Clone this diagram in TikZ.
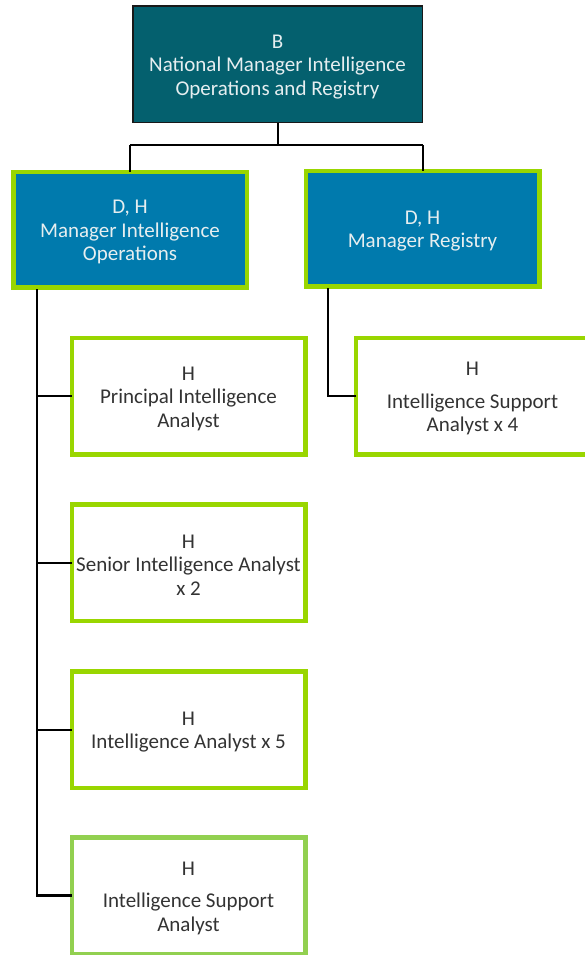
\documentclass[tikz,border=0pt]{standalone}
\usepackage{fontspec}
\setmainfont{Carlito}
\definecolor{teal}{HTML}{04606E}
\definecolor{midblue}{HTML}{007AAD}
\definecolor{lime}{HTML}{99D600}
\definecolor{softlime}{HTML}{92D050}
\definecolor{darktext}{HTML}{333333}
\definecolor{lighttext}{HTML}{E6EEF0}
% taller first line, so each text block sits a little lower in its box
\newcommand{\firstline}{\rule{0pt}{18.5pt}}
\tikzset{
  base/.style={rectangle, align=center, inner sep=0pt, outer sep=0pt,
    font=\fontsize{21}{23.5}\selectfont},
  topbox/.style={base, fill=teal, draw=black!90, line width=1.5pt,
    text=lighttext, minimum width=289.5pt, minimum height=116.5pt},
  mgrbox/.style={base, fill=midblue, draw=lime, line width=4.5pt,
    text=lighttext, minimum width=233.5pt, minimum height=115.5pt},
  rolebox/.style={base, fill=white, draw=lime, line width=4.5pt,
    text=darktext, minimum width=233.5pt, minimum height=116.5pt},
  link/.style={draw=black, line width=2pt},
  trunk/.style={draw=black, line width=2.5pt}
}
\begin{document}
\begin{tikzpicture}[x=1pt, y=-1pt]
\useasboundingbox (0,0) rectangle (584,955);
\fill[white] (0,0) rectangle (584,955);

% head of unit
\node[topbox] (nat) at (277.5,64.5)
  {\firstline B\\National Manager Intelligence\\Operations and Registry};

% managers
\node[mgrbox] (ops) at (130,229.5)
  {\firstline D, H\\Manager Intelligence\\Operations};
\node[mgrbox] (reg) at (422.5,228.5)
  {\firstline D, H\\Manager Registry};

% operations team
\node[rolebox] (pia) at (188.5,396)
  {\firstline H\\Principal Intelligence\\Analyst};
\node[rolebox] (sia) at (188.5,562.5)
  {\firstline H\\Senior Intelligence Analyst\\x 2};
\node[rolebox] (ia) at (188.5,729.5)
  {\firstline H\\Intelligence Analyst x 5};
\node[rolebox, draw=softlime] (isa) at (188.5,895.5)
  {\firstline H\\[9pt]Intelligence Support\\Analyst};

% registry team
\node[rolebox] (isa4) at (472.5,396)
  {\firstline H\\[9pt]Intelligence Support\\Analyst x 4};

% connectors from the head
\coordinate (bus) at (277.5,145);
\draw[link] (nat.south) -- (bus);
\draw[link] (ops.north |- bus) -- (reg.north |- bus);
\draw[link] (ops.north |- bus) -- (ops.north);
\draw[link] (reg.north |- bus) -- (reg.north);

% operations trunk
\coordinate (otop) at (37,289);
\draw[trunk] (otop) -- (otop |- isa.west) -- (isa.west);
\draw[link] (otop |- pia.west) -- (pia.west);
\draw[link] (otop |- sia.west) -- (sia.west);
\draw[link] (otop |- ia.west) -- (ia.west);

% registry branch
\coordinate (rtop) at (328,288);
\draw[link] (rtop) -- (rtop |- isa4.west) -- (isa4.west);
\end{tikzpicture}
\end{document}
